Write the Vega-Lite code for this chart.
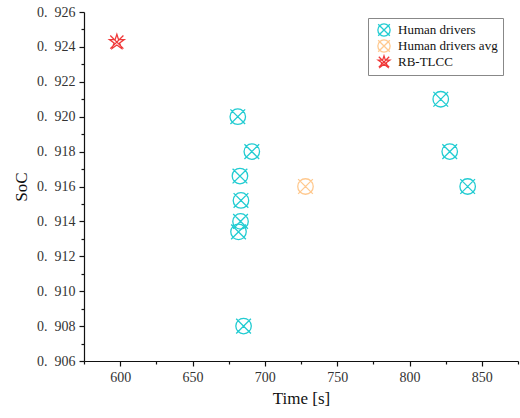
{
  "$schema": "https://vega.github.io/schema/vega-lite/v6.json",
  "width": 434,
  "height": 349,
  "autosize": {"type": "none"},
  "padding": {"left": 84, "top": 12, "right": 2, "bottom": 57},
  "background": "white",
  "config": {
    "view": {"stroke": null},
    "font": "Liberation Serif",
    "axis": {"labelFont": "Liberation Serif", "titleFont": "Liberation Serif"},
    "legend": {"labelFont": "Liberation Serif"}
  },
  "data": {"values": [
    {"series": "Human drivers", "time": 681.3, "soc": 0.9200},
    {"series": "Human drivers", "time": 691.0, "soc": 0.9180},
    {"series": "Human drivers", "time": 682.8, "soc": 0.9166},
    {"series": "Human drivers", "time": 683.5, "soc": 0.9152},
    {"series": "Human drivers", "time": 683.2, "soc": 0.9140},
    {"series": "Human drivers", "time": 681.8, "soc": 0.9134},
    {"series": "Human drivers", "time": 685.3, "soc": 0.9080},
    {"series": "Human drivers", "time": 821.6, "soc": 0.9210},
    {"series": "Human drivers", "time": 827.8, "soc": 0.9180},
    {"series": "Human drivers", "time": 840.2, "soc": 0.9160},
    {"series": "Human drivers avg", "time": 728.1, "soc": 0.9160},
    {"series": "RB-TLCC", "time": 597.7, "soc": 0.92428}
  ]},
  "mark": {"type": "point", "filled": false, "strokeWidth": 1.3, "size": 240, "opacity": 1},
  "encoding": {
    "x": {
      "field": "time", "type": "quantitative",
      "scale": {"domain": [575, 875], "nice": false, "zero": false},
      "axis": {
        "title": "Time [s]", "titleFontSize": 17, "titleFontWeight": "normal", "titleColor": "#111", "titlePadding": 6,
        "values": [575, 600, 625, 650, 675, 700, 725, 750, 775, 800, 825, 850, 875],
        "labelExpr": "datum.value % 50 == 0 ? datum.label : ''",
        "labelFont": "Times New Roman, Liberation Serif, serif", "labelFontSize": 14, "labelColor": "#333", "labelOverlap": false, "labelPadding": 4,
        "grid": false, "domainColor": "#111", "domainWidth": 1.2, "tickColor": "#111", "tickWidth": 1.2,
        "tickSize": {"condition": {"test": "datum.value % 50 == 0", "value": 5}, "value": 3}
      }
    },
    "y": {
      "field": "soc", "type": "quantitative",
      "scale": {"domain": [0.906, 0.926], "nice": false, "zero": false},
      "axis": {
        "title": "SoC", "titleFontSize": 17, "titleFontWeight": "normal", "titleColor": "#111", "titlePadding": 6,
        "values": [0.906, 0.907, 0.908, 0.909, 0.91, 0.911, 0.912, 0.913, 0.914, 0.915, 0.916, 0.917, 0.918, 0.919, 0.92, 0.921, 0.922, 0.923, 0.924, 0.925, 0.926],
        "format": ".3f",
        "labelExpr": "round(datum.value * 1000) % 2 == 0 ? replace(datum.label, '.', '.\u00a0\u00a0') : ''",
        "labelFont": "Times New Roman, Liberation Serif, serif", "labelFontSize": 14, "labelColor": "#333", "labelOverlap": false, "labelPadding": 4,
        "grid": false, "domainColor": "#111", "domainWidth": 1.2, "tickColor": "#111", "tickWidth": 1.2,
        "tickSize": {"condition": {"test": "round(datum.value * 1000) % 2 == 0", "value": 5}, "value": 3}
      }
    },
    "color": {
      "field": "series", "type": "nominal",
      "scale": {"domain": ["Human drivers", "Human drivers avg", "RB-TLCC"], "range": ["#22CCD2", "#FFC98F", "#F03A3A"]},
      "legend": {
        "title": null, "orient": "none", "legendX": 284, "legendY": 6,
        "strokeColor": "#888", "padding": 5, "fillColor": "white",
        "labelFont": "Times New Roman, Liberation Serif, serif", "labelFontSize": 13, "labelColor": "#111",
        "symbolSize": 150, "symbolStrokeWidth": 1.3, "rowPadding": -4, "labelOffset": 7, "symbolOffset": 4
      }
    },
    "shape": {
      "field": "series", "type": "nominal",
      "scale": {"domain": ["Human drivers", "Human drivers avg", "RB-TLCC"], "range": [
        "M -1 0 A 1 1 0 1 1 1 0 A 1 1 0 1 1 -1 0 Z M -0.95 -0.95 L 0.95 0.95 M -0.95 0.95 L 0.95 -0.95",
        "M -1 0 A 1 1 0 1 1 1 0 A 1 1 0 1 1 -1 0 Z M -0.95 -0.95 L 0.95 0.95 M -0.95 0.95 L 0.95 -0.95",
        "M 0 -1 L 0.22 -0.31 L 0.95 -0.31 L 0.36 0.12 L 0.59 0.81 L 0 0.38 L -0.59 0.81 L -0.36 0.12 L -0.95 -0.31 L -0.22 -0.31 Z M -0.85 -0.85 L 0.85 0.85 M 0.85 -0.85 L -0.85 0.85"
      ]},
      "legend": null
    }
  }
}
